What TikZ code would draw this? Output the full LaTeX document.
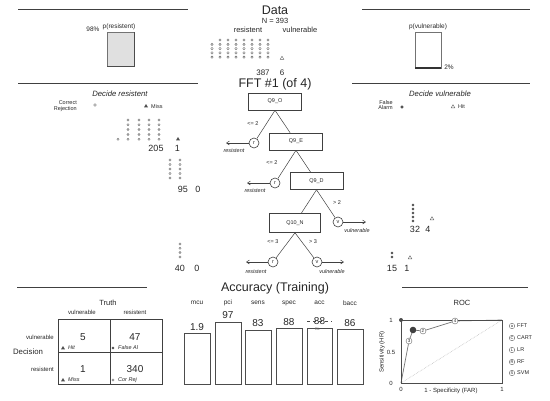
\documentclass[tikz,border=0pt]{standalone}
\usepackage{fontspec}
\setmainfont{Liberation Sans}
\usetikzlibrary{arrows.meta}
\newcommand{\fsz}[1]{\fontsize{#1}{#1}\selectfont}
\tikzset{
  otri/.pic={\draw[black!60,line width=.4pt] (0,-1.8)--(-1.8,1.3)--(1.8,1.3)--cycle;},
  ftri/.pic={\fill[black!70] (0,-2)--(-2,1.4)--(2,1.4)--cycle;}
}
\begin{document}
\begin{tikzpicture}[x=1pt,y=-1pt,
  every node/.style={inner sep=0pt, text=black!85},
  title/.style={font=\fsz{12.5}},
  lab/.style={font=\fsz{7.5}},
  small/.style={font=\fsz{6}},
  tiny/.style={font=\fsz{5.5}},
  itl/.style={font=\fsz{7.7}\itshape},
  exitlab/.style={font=\fsz{5.5}\itshape},
  num/.style={font=\fsz{9}},
  rule/.style={draw=black!75, line width=0.8pt},
  qbox/.style={draw=black!75, line width=0.6pt, minimum width=53pt, minimum height=17pt, font=\fsz{5.5}},
  ecirc/.style={circle, draw=black!75, line width=0.6pt, minimum size=10pt, font=\fsz{5.5}},
  edge/.style={draw=black!75, line width=0.5pt},
  exitarrow/.style={draw=black!75, line width=0.5pt, -{Straight Barb[length=3pt,width=4pt]}},
  odot/.style={draw=black!60, line width=0.4pt},
  fdot/.style={fill=black!70, draw=black!70, line width=0.4pt},
  barbox/.style={draw=black!70, line width=0.7pt},
]
\useasboundingbox (0,0) rectangle (550,400);

% ---------------- Data section ----------------
\draw[rule] (18,9) -- (188,9);
\draw[rule] (362,9) -- (530,9);
\node[title] (datat) at (275,10) {Data};
\node[lab] (datan) at (275,20.5) {N = 393};
\node[lab] (dres) at (248,30) {resistent};
\node[lab] (dvul) at (300,30) {vulnerable};
\foreach \i in {1,...,7} \draw[odot] ({212+8*\i},40) circle (1.2pt);
\foreach \yy in {44.3,48.6,52.9,57.2}
  \foreach \i in {0,...,7} \draw[odot] ({212+8*\i},\yy) circle (1.2pt);
\pic at (282,58) {otri};
\node[num, font=\fsz{8}] (d387) at (263,73) {387};
\node[num, font=\fsz{8}] (d6) at (282,73) {6};

% p(resistent)
\fill[black!12] (107,{66-0.98*34}) rectangle (134,66);
\draw[black!55, line width=0.8pt] (107,32) rectangle (134,66);
\draw[black!70, line width=1pt] (134,32) -- (134,66) -- (107,66);
\node[small, font=\fsz{6.5}] (pres) at (119,27) {p(resistent)};
\node[small, font=\fsz{6.5}] (pres98) at (93,29.5) {98\%};
% p(vulnerable)
\draw[black!55, line width=0.6pt] (415,32) rectangle (441,68);
\draw[black!80, line width=1.2pt] (415,68) -- (441,68);
\node[small, font=\fsz{6.5}] (pvul) at (428,26.5) {p(vulnerable)};
\node[small, font=\fsz{6.5}] (pvul2) at (449,67.5) {2\%};

% ---------------- Tree section ----------------
\draw[rule] (18,83) -- (198,83);
\draw[rule] (352,83) -- (530,83);
\node[title] (ffttitle) at (275,84) {FFT \#1 (of 4)};
\node[itl] (decres) at (120,94) {Decide resistent};
\node[itl] (decvul) at (440,94) {Decide vulnerable};
\node[tiny, align=right, anchor=east] (crlab) at (77,106) {Correct\\Rejection};
\draw[odot] (95,105) circle (1.3pt);
\pic at (146,106) {ftri};
\node[tiny, anchor=west] (misslab) at (151,106.5) {Miss};
\node[tiny, align=right, anchor=east] (falab) at (393,105) {False\\Alarm};
\draw[fdot] (402,107) circle (1.3pt);
\pic at (453,106.5) {otri};
\node[tiny, anchor=west] (hitlab) at (458,107) {Hit};

% nodes
\node[qbox] (q1) at (275,101.5) {Q9\_O};
\node[qbox] (q2) at (296,141.5) {Q9\_E};
\node[qbox] (q3) at (316.5,181) {Q9\_D};
\node[qbox, minimum width=51pt, minimum height=19pt] (q4) at (295,223) {Q10\_N};
\node[ecirc] (r1) at (254,143) {r};
\node[ecirc] (r2) at (275,183) {r};
\node[ecirc] (v3) at (338,222) {v};
\node[ecirc] (r4) at (273,262) {r};
\node[ecirc] (v4) at (317,262) {v};
\coordinate (r1e) at (226,143);
\coordinate (r2e) at (247,183);
\coordinate (v3e) at (366,222);
\coordinate (r4e) at (246,262);
\coordinate (v4e) at (344,262);

\draw[edge] (q1.south) -- (r1);
\draw[edge] (q1.south) -- (q2);
\draw[edge] (q2.south) -- (r2);
\draw[edge] (q2.south) -- (q3);
\draw[edge] (q3.south) -- (q4);
\draw[edge] (q3.south) -- (v3);
\draw[edge] (q4.south) -- (r4);
\draw[edge] (q4.south) -- (v4);
\draw[exitarrow] (r1) -- (r1e);
\draw[exitarrow] (r2) -- (r2e);
\draw[exitarrow] (v3) -- (v3e);
\draw[exitarrow] (r4) -- (r4e);
\draw[exitarrow] (v4) -- (v4e);

\node[tiny] (l1) at (253,124) {<= 2};
\node[tiny] (l2) at (272,163) {<= 2};
\node[tiny] (l3) at (337,202.5) {> 2};
\node[tiny] (l4) at (273,242) {<= 3};
\node[tiny] (l5) at (313,242) {> 3};
\node[exitlab] (x1) at (234,151) {resistent};
\node[exitlab] (x2) at (255,191) {resistent};
\node[exitlab] (x3) at (357,231) {vulnerable};
\node[exitlab] (x4) at (256,271.5) {resistent};
\node[exitlab] (x5) at (332,271.5) {vulnerable};

% left icon clusters
\foreach \xx in {128,139,149,159}
  \foreach \yy in {120,124.8,129.6,134.4,139.2} \draw[odot] (\xx,\yy) circle (1.1pt);
\draw[odot] (118,139.2) circle (1.1pt);
\pic at (178,139) {ftri};
\node[num] (n205) at (156,148) {205};
\node[num] (n1a) at (177.5,148) {1};
\foreach \xx in {170,180}
  \foreach \yy in {160,164.5,169,173.5,178} \draw[odot] (\xx,\yy) circle (1.1pt);
\node[num] (n95) at (183,189) {95};
\node[num] (n0a) at (198,189) {0};
\foreach \yy in {244,248.3,252.6,257} \draw[odot] (180,\yy) circle (1.1pt);
\node[num] (n40) at (180,268) {40};
\node[num] (n0b) at (197,268) {0};

% right icon clusters
\foreach \yy in {205,209,213,217,221} \draw[fdot] (413,\yy) circle (1.1pt);
\pic at (432,218.5) {otri};
\node[num] (n32) at (415,229) {32};
\node[num] (n4) at (428,229) {4};
\foreach \yy in {253,257} \draw[fdot] (392,\yy) circle (1.1pt);
\pic at (410,257.5) {otri};
\node[num] (n15) at (392,268) {15};
\node[num] (n1b) at (407,268) {1};

% ---------------- Accuracy section ----------------
\draw[rule] (17,287) -- (147,287);
\draw[rule] (402,287) -- (528,287);
\node[title] (acctitle) at (275,288) {Accuracy (Training)};

% confusion matrix
\draw[black!75, line width=0.8pt] (58,319) rectangle (162,384);
\draw[black!75, line width=0.6pt] (110,319) -- (110,384);
\draw[black!75, line width=0.6pt] (58,352) -- (162,352);
\node[lab] (truth) at (108,303) {Truth};
\node[small] (tvul) at (82,312) {vulnerable};
\node[small] (tres) at (135,312) {resistent};
\node[small, anchor=east] (dvulr) at (54,337) {vulnerable};
\node[small, anchor=east] (dresr) at (54,369) {resistent};
\node[lab, font=\fsz{7.8}] (decision) at (28,352) {Decision};
\node[font=\fsz{10}] (c11) at (83,337) {5};
\node[font=\fsz{10}] (c12) at (135,337) {47};
\node[font=\fsz{10}] (c21) at (83,369) {1};
\node[font=\fsz{10}] (c22) at (135,369) {340};
\pic at (63,348) {ftri};
\node[exitlab, anchor=west] (hitc) at (68,348) {Hit};
\draw[fdot] (113,348) circle (1.1pt);
\node[exitlab, anchor=west] (fac) at (118,348) {False Al};
\pic at (63,380) {ftri};
\node[exitlab, anchor=west] (missc) at (68,380) {Miss};
\draw[odot] (113,380) circle (1.1pt);
\node[exitlab, anchor=west] (crc) at (118,380) {Cor Rej};

% bars
\foreach \nm/\xa/\xb/\tp/\val/\vy in {mcu/184/210/333/1.9/327, pci/215/241/322/97/315, sens/245/271/330/83/323, spec/276/302/328/88/322, acc/307/332/328/88/321.5, bacc/337/363/329/86/323}{
  \draw[barbox] (\xa,384) rectangle (\xb,\tp);
  \node[small, font=\fsz{6.5}] at ({(\xa+\xb)/2},303) {\nm};
  \node[font=\fsz{10}] at ({(\xa+\xb)/2},\vy) {\val};
}
\draw[black!70, dashed, line width=0.5pt] (307,321) -- (332,321);
\node[font=\fsz{4}, text=black!55] (bl) at (317.5,329.5) {BL};

% ROC
\node[lab] (roct) at (462,303) {ROC};
\draw[black!25, densely dotted, line width=0.6pt] (401,383) -- (502,320);
\draw[black!55, line width=0.7pt] (401,383) -- (409,341) -- (413,330) -- (423,331) -- (455,321) -- (502,320);
\draw[black!70, line width=0.9pt] (401,320) rectangle (502,383);
\fill[black!70] (401,320) circle (2pt);
\fill[black!75] (413,330) circle (3.3pt);
\node[circle, draw=black!60, fill=white, line width=.4pt, minimum size=6pt, font=\fsz{4.5}] (p3) at (409,341) {3};
\node[circle, draw=black!60, fill=white, line width=.4pt, minimum size=6pt, font=\fsz{4.5}] (p2) at (423,331) {2};
\node[circle, draw=black!60, fill=white, line width=.4pt, minimum size=6pt, font=\fsz{4.5}] (p4) at (455,321) {4};
\node[small] (y1) at (391,320) {1};
\node[small] (y05) at (391,352) {0.5};
\node[small] (y0) at (391,383) {0};
\node[small] (x0) at (401,389.5) {0};
\node[small] (x1) at (502,389.5) {1};
\node[small] (xlab) at (451,391) {1 - Specificity (FAR)};
\node[small, rotate=90] (ylab) at (382,352) {Sensitivity (HR)};
\foreach \ic/\tx/\yy in {a/FFT/326, C/CART/338, L/LR/350, R/RF/362, S/SVM/373}{
  \node[circle, draw=black!60, line width=.4pt, minimum size=5.5pt, font=\fsz{4}] at (512,\yy) {\ic};
  \node[font=\fsz{5.5}, anchor=west] at (517,\yy) {\tx};
}
\end{tikzpicture}
\end{document}
